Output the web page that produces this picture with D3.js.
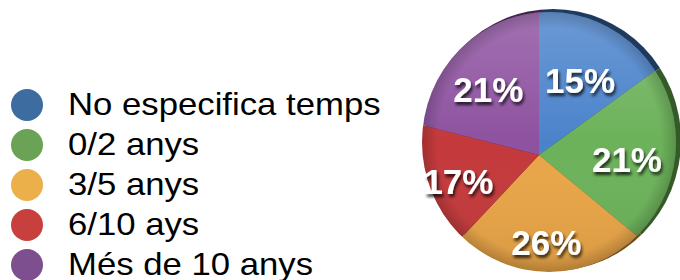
<!DOCTYPE html>
<html><head><meta charset="utf-8">
<script src="https://cdn.jsdelivr.net/npm/d3@7"></script>
<style>html,body{margin:0;padding:0;background:#fff;}</style>
</head><body>
<svg id="c" width="680" height="280"></svg>
<script>
const categories = ["No especifica temps", "0/2 anys", "3/5 anys", "6/10 ays", "Més de 10 anys"];
const values = [15, 21, 26, 17, 21];
const labels = ["15%", "21%", "26%", "17%", "21%"];
const sliceColors = ["#4b83cb", "#6cb25a", "#e9a547", "#c4393b", "#8e52a0"];
const rimColors = ["#1f3a5c", "#355a2a", "#6b4a1c", "#5a1c1c", "#40244a"];
const legendColors = ["#3c6ca0", "#6aa355", "#ebb04a", "#c8403e", "#7d4f8e"];

const svg = d3.select("#c");
const defs = svg.append("defs");

const vx = 539, vy = 155;
const ex = 549, ey = 142, erx = 127, ery = 130;

defs.append("clipPath").attr("id","disc")
  .append("ellipse").attr("cx",ex).attr("cy",ey).attr("rx",erx).attr("ry",ery);
defs.append("clipPath").attr("id","rim")
  .append("ellipse").attr("cx",ex+4).attr("cy",ey-2).attr("rx",erx+1).attr("ry",ery+1);

const grad = defs.append("linearGradient").attr("id","shade")
  .attr("x1",0).attr("y1",0).attr("x2",0).attr("y2",1);
grad.append("stop").attr("offset","0%").attr("stop-color","#fff").attr("stop-opacity",0.18);
grad.append("stop").attr("offset","50%").attr("stop-color","#fff").attr("stop-opacity",0);
grad.append("stop").attr("offset","100%").attr("stop-color","#000").attr("stop-opacity",0.08);

const rg = defs.append("radialGradient").attr("id","edge")
  .attr("cx",0.5).attr("cy",0.5).attr("r",0.5);
rg.append("stop").attr("offset","88%").attr("stop-color","#000").attr("stop-opacity",0);
rg.append("stop").attr("offset","100%").attr("stop-color","#000").attr("stop-opacity",0.18);

const f = defs.append("filter").attr("id","ts").attr("x","-20%").attr("y","-20%").attr("width","150%").attr("height","160%");
f.append("feDropShadow").attr("dx",1.5).attr("dy",3).attr("stdDeviation",1.6)
  .attr("flood-color","#000").attr("flood-opacity",0.75);

const pie = d3.pie().sort(null).value(d => d)(values);
const arcBig = d3.arc().innerRadius(0).outerRadius(220);

const rimG = svg.append("g").attr("clip-path","url(#rim)")
  .append("g").attr("transform",`translate(${vx+4},${vy-2})`);
rimG.selectAll("path").data(pie).join("path")
  .attr("d", arcBig).attr("fill",(d,i)=>rimColors[i]);

const g = svg.append("g").attr("clip-path","url(#disc)");
g.append("g").attr("transform",`translate(${vx},${vy})`)
  .selectAll("path").data(pie).join("path")
  .attr("d", arcBig).attr("fill",(d,i)=>sliceColors[i]);
g.append("ellipse").attr("cx",ex).attr("cy",ey).attr("rx",erx).attr("ry",ery).attr("fill","url(#shade)");
g.append("ellipse").attr("cx",ex).attr("cy",ey).attr("rx",erx).attr("ry",ery).attr("fill","url(#edge)");

const ringArc = d3.arc().innerRadius(86).outerRadius(86);
svg.append("g").selectAll("text").data(pie).join("text")
  .attr("transform", d => {
    const c = ringArc.centroid(d);
    return `translate(${vx + c[0] + 2},${vy + c[1] + 2})`;
  })
  .attr("text-anchor","middle")
  .attr("dy","0.36em")
  .attr("font-family","'Liberation Sans', Arial, sans-serif")
  .attr("font-weight","bold").attr("font-size",35)
  .attr("fill","#fff").attr("filter","url(#ts)")
  .text((d,i)=>labels[i]);

const ly = d3.scalePoint().domain(categories).range([105, 265]);
const leg = svg.append("g").selectAll("g").data(categories).join("g")
  .attr("transform", d => `translate(0,${ly(d)})`);
leg.append("circle").attr("cx",27).attr("cy",0).attr("r",16).attr("fill",(d,i)=>legendColors[i]);
leg.append("text").attr("transform","translate(68,10) scale(1.12,1)")
  .attr("font-family","'Liberation Sans', Arial, sans-serif").attr("font-size",31)
  .attr("fill","#000").text(d=>d);
</script>
</body></html>
